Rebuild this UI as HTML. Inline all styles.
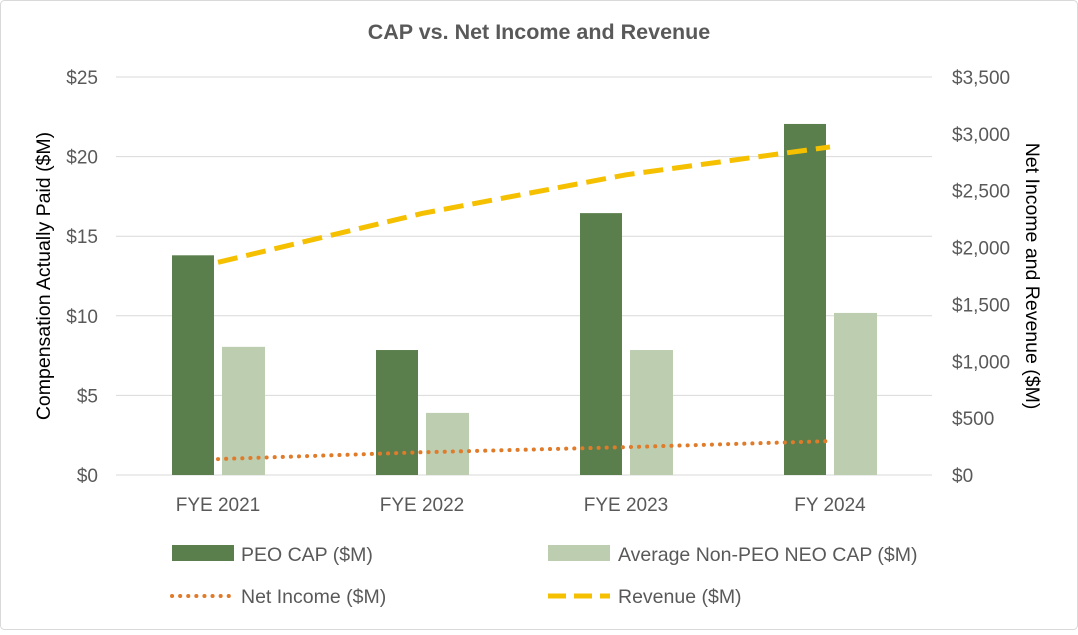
<!DOCTYPE html>
<html><head><meta charset="utf-8"><style>
body{margin:0;background:#fff;font-family:"Liberation Sans",sans-serif}
svg text{font-family:"Liberation Sans",sans-serif}
</style></head><body>
<svg id="c" width="1078" height="630" xmlns="http://www.w3.org/2000/svg">
<rect x="0.5" y="0.5" width="1077" height="629" rx="4" fill="#fff" stroke="#d9d9d9"/>
<text x="539" y="39" text-anchor="middle" font-size="21.5" font-weight="bold" fill="#595959">CAP vs. Net Income and Revenue</text>
<text transform="translate(50,276) rotate(-90)" text-anchor="middle" font-size="19.5" fill="#000">Compensation Actually Paid ($M)</text>
<text transform="translate(1026,276) rotate(90)" text-anchor="middle" font-size="19.5" fill="#000">Net Income and Revenue ($M)</text>
<g id="grid"></g><g id="bars"></g><g id="lines"></g><g id="ticks"></g>
<g>
<rect x="172" y="545" width="62" height="16" fill="#5b7f4c"/>
<text x="241" y="561" font-size="19.5" fill="#595959">PEO CAP ($M)</text>
<rect x="548" y="545" width="62" height="16" fill="#bccdb0"/>
<text x="618" y="561" font-size="19.5" fill="#595959">Average Non-PEO NEO CAP ($M)</text>
<line x1="172" y1="596" x2="234" y2="596" stroke="#e07b2a" stroke-width="4" stroke-dasharray="0.1 8" stroke-linecap="round"/>
<text x="241" y="603" font-size="19.5" fill="#595959">Net Income ($M)</text>
<line x1="548" y1="596" x2="610" y2="596" stroke="#f5c000" stroke-width="5" stroke-dasharray="18 8"/>
<text x="618" y="603" font-size="19.5" fill="#595959">Revenue ($M)</text>
</g>
</svg>
<script>
const categories=["FYE 2021","FYE 2022","FYE 2023","FY 2024"];
const peoCap=[13.8,7.85,16.45,22.05];
const nonPeoCap=[8.05,3.9,7.85,10.18];
const netIncome=[140,200,245,298];
const revenue=[1870,2300,2640,2885];
const leftTicks=[0,5,10,15,20,25];
const rightTicks=[0,500,1000,1500,2000,2500,3000,3500];
const NS="http://www.w3.org/2000/svg";
const x0=116,x1=932,yB=475,yT=77;
const bw=(x1-x0)/categories.length;
const yL=v=>yB-(v/25)*(yB-yT);
const yR=v=>yB-(v/3500)*(yB-yT);
const cx=i=>x0+bw*i+bw/2;
function mk(t,a,p){const e=document.createElementNS(NS,t);for(const k in a)e.setAttribute(k,a[k]);document.getElementById(p).appendChild(e);return e;}
leftTicks.forEach(v=>{
 const g=mk("line",{x1:x0,x2:x1,y1:yL(v),y2:yL(v),stroke:"#d9d9d9","stroke-width":1},"grid");
 
 
 const t=mk("text",{x:98,y:yL(v)+7,"text-anchor":"end","font-size":19,fill:"#595959"},"ticks");
 t.textContent="$"+v;
 
 
});
rightTicks.forEach(v=>{
 const t=mk("text",{x:952,y:yR(v)+7,"font-size":19,fill:"#595959"},"ticks");
 t.textContent="$"+v.toLocaleString("en-US");
 
 
});
categories.forEach((c,i)=>{
 const t=mk("text",{x:cx(i),y:511,"text-anchor":"middle","font-size":19,fill:"#595959"},"ticks");
 t.textContent=c;
 
 
 const b1=mk("rect",{x:cx(i)-46,y:yL(peoCap[i]),width:42,height:yB-yL(peoCap[i]),fill:"#5b7f4c"},"bars");
 
 
 const b2=mk("rect",{x:cx(i)+4,y:yL(nonPeoCap[i]),width:43,height:yB-yL(nonPeoCap[i]),fill:"#bccdb0"},"bars");
 
 
});
const ni=mk("polyline",{points:netIncome.map((v,i)=>cx(i)+","+yR(v)).join(" "),fill:"none",stroke:"#e07b2a","stroke-width":4,"stroke-dasharray":"0.1 8","stroke-linecap":"round"},"lines");


const rv=mk("polyline",{points:revenue.map((v,i)=>cx(i)+","+yR(v)).join(" "),fill:"none",stroke:"#f5c000","stroke-width":5,"stroke-dasharray":"20 9"},"lines");


</script>
</body></html>
